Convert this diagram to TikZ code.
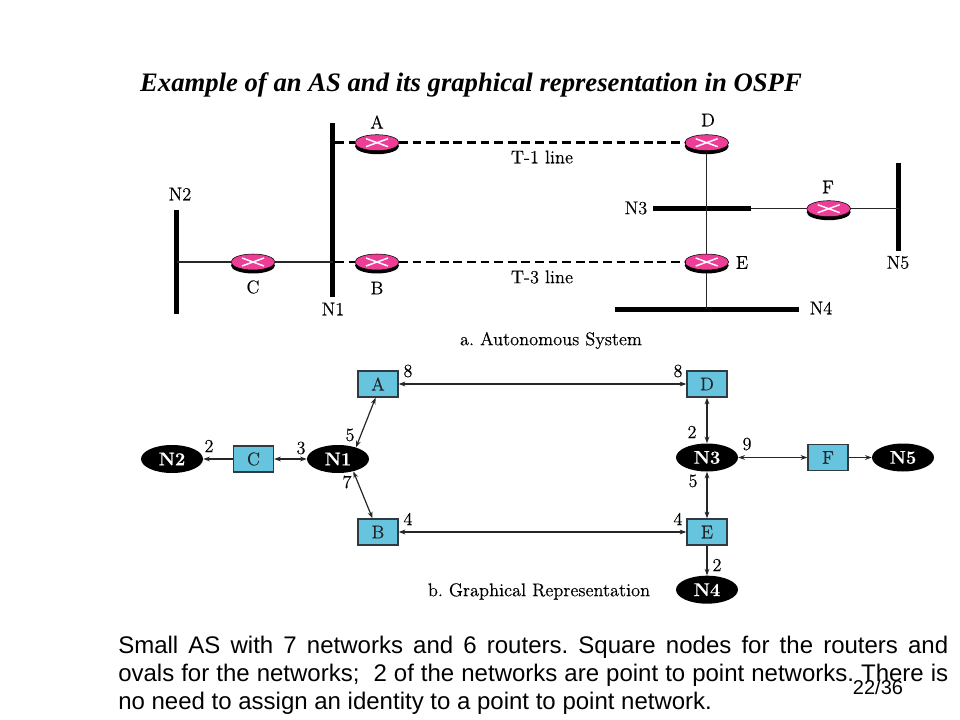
\documentclass[tikz,border=0pt]{standalone}
\usepackage{fontspec}
\usetikzlibrary{shapes.geometric,arrows.meta}
\newfontfamily\sansf{Liberation Sans}
\newfontfamily\titlef{Liberation Serif}
\newfontfamily\labf[RawFeature={embolden=0.35}]{Latin Modern Roman}
\definecolor{rpink}{HTML}{EE3D96}
\definecolor{rblue}{HTML}{66C4DF}
\definecolor{rgray}{HTML}{2F3B40}
\newcommand{\lab}{\labf\frenchspacing\fontsize{13.8}{16}\selectfont}
\tikzset{
  x=0.75pt,y=-0.75pt,
  lbl/.style={inner sep=0pt,font=\lab,text=black},
  bar/.style={fill=black,inner sep=0pt,outer sep=0pt,rectangle},
  rbase/.style={ellipse,fill=black,inner sep=0pt,outer sep=0pt,minimum width=33pt,minimum height=12pt},
  rtop/.style={ellipse,draw=black,line width=0.4pt,fill=rpink,inner sep=0pt,outer sep=0pt,minimum width=33pt,minimum height=12pt},
  xmark/.style={draw=white,line width=1.1pt},
  wire/.style={draw=black!85,line width=1.1pt},
  dashwire/.style={draw=black,line width=1.8pt,dash pattern=on 6.6pt off 3.6pt},
  rbox/.style={rectangle,draw=rgray,line width=1pt,fill=rblue,inner sep=0pt,minimum width=30pt,minimum height=19.5pt,font=\lab,text=black!85},
  net/.style={ellipse,fill=black,inner sep=0pt,minimum width=46.5pt,minimum height=21pt,font=\lab\bfseries,text=white},
  arc/.style={draw=black!85,line width=0.9pt,-{Stealth[length=5pt,width=3.6pt]}},
  biarc/.style={draw=black!85,line width=0.9pt,{Stealth[length=5pt,width=3.6pt]}-{Stealth[length=5pt,width=3.6pt]}},
}
\newcommand{\router}[3]{%
  \node[rbase] (#1base) at (#2,#3+3.5) {};
  \node[rtop] (#1) at (#2,#3) {};
  \draw[xmark] (#2-11,#3-4) -- (#2+11,#3+4) (#2-11,#3+4) -- (#2+11,#3-4);
}
\begin{document}
\begin{tikzpicture}
\useasboundingbox (0,0) rectangle (960,720);
\fill[white] (0,0) rectangle (960,720);

\node[inner sep=0pt,font=\titlef\bfseries\itshape\fontsize{20}{24}\selectfont] (title) at (471,85) {Example of an AS and its graphical representation in OSPF};

% part a: bars
\node[bar,minimum width=3.8pt,minimum height=130.5pt] (barN1) at (332.7,210) {};
\node[bar,minimum width=3.8pt,minimum height=78pt] (barN2) at (176.7,262) {};
\node[bar,minimum width=73.5pt,minimum height=3.6pt] (barN3) at (702,208.7) {};
\node[bar,minimum width=138pt,minimum height=3.6pt] (barN4) at (707,309.3) {};
\node[bar,minimum width=3.8pt,minimum height=66pt] (barN5) at (898.7,207) {};

% part a: routers
\router{ra}{377}{142.7}
\router{rb}{377}{262}
\router{rc}{253}{262}
\router{rd}{706.7}{142.7}
\router{re}{706.7}{262}
\router{rf}{828.7}{208.7}

% part a: connectors
\draw[wire] (barN2.center |- rc.west) -- (rc.west);
\draw[wire] (rc.east) -- (barN1.center |- rc.east);
\draw[dashwire] (barN1.east |- ra.west) -- (ra.west);
\draw[dashwire] (ra.east) -- (rd.west);
\draw[dashwire] (barN1.east |- rb.west) -- (rb.west);
\draw[dashwire] (rb.east) -- (re.west);
\draw[wire] (rdbase.south) -- (re.north);
\draw[wire] (rebase.south) -- (barN4.center -| rebase.south);
\draw[wire] (barN3.east) -- (rf.west);
\draw[wire] (rf.east) -- (barN5.center |- rf.east);

% part a: labels
\node[lbl] (tA) at (377,122) {A};
\node[lbl] (tB) at (377,288) {B};
\node[lbl] (tC) at (253,287) {C};
\node[lbl] (tD) at (708,120) {D};
\node[lbl] (tE) at (742,262.5) {E};
\node[lbl] (tF) at (828,187) {F};
\node[lbl] (tN1) at (333,309) {N1};
\node[lbl] (tN2) at (180,194) {N2};
\node[lbl] (tN3) at (636,208) {N3};
\node[lbl] (tN4) at (821,308) {N4};
\node[lbl] (tN5) at (898,262.5) {N5};
\node[lbl] (t1) at (542,157) {T-1 line};
\node[lbl] (t3) at (542,277) {T-3 line};
\node[lbl] (capa) at (551,340.5) {a. Autonomous System};

% part b: nodes
\node[rbox] (A) at (378,384) {A};
\node[rbox] (B) at (378,532) {B};
\node[rbox] (C) at (253.5,459) {C};
\node[rbox] (D) at (707,384) {D};
\node[rbox] (E) at (707,532) {E};
\node[rbox] (F) at (828,457.5) {F};
\node[net] (N1) at (338,459) {N1};
\node[net] (N2) at (172,459) {N2};
\node[net] (N3) at (707,457.5) {N3};
\node[net] (N4) at (707,589.7) {N4};
\node[net] (N5) at (903,457.5) {N5};

% part b: connectors
\draw[arc] (C) -- (N2);
\draw[biarc] (C) -- (N1);
\draw[biarc] (N1.33) -- (A.260);
\draw[biarc] (N1.321) -- (B.112);
\draw[biarc] (A) -- (D);
\draw[biarc] (B) -- (E);
\draw[biarc] (D) -- (N3);
\draw[biarc] (N3) -- (E);
\draw[biarc] (N3) -- (F);
\draw[arc] (F) -- (N5);
\draw[arc] (E) -- (N4);

% part b: costs
\node[lbl] (c1) at (408,371) {8};
\node[lbl] (c2) at (678,371) {8};
\node[lbl] (c3) at (350,435) {5};
\node[lbl] (c4) at (209,446) {2};
\node[lbl] (c5) at (301,448) {3};
\node[lbl] (c6) at (347,482) {7};
\node[lbl] (c7) at (408,519) {4};
\node[lbl] (c8) at (678,519) {4};
\node[lbl] (c9) at (692,432) {2};
\node[lbl] (c10) at (747,444) {9};
\node[lbl] (c11) at (693,481) {5};
\node[lbl] (c12) at (717,565) {2};
\node[lbl] (capb) at (539,591.5) {b. Graphical Representation};

% text
\node[anchor=north west,inner sep=0pt,text width=622.5pt,align=justify,font=\sansf\frenchspacing\fontsize{18}{21}\selectfont] (body) at (118,635.5)
 {Small AS with 7 networks and 6 routers. Square nodes for the routers and\linebreak ovals for the networks;~ 2 of the networks are point to point networks. There is\linebreak no need to assign an identity to a point to point network.};
\node[inner sep=0pt,font=\sansf\fontsize{15}{18}\selectfont] (page) at (878,687) {22/36};
\end{tikzpicture}
\end{document}
